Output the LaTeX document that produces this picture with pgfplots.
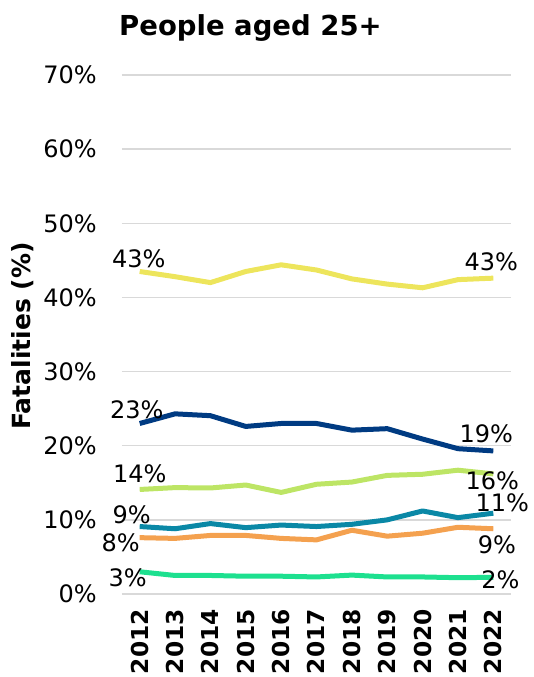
\documentclass[border=0pt]{standalone}
\usepackage{fontspec}
\setmainfont{DejaVu Sans}
\usepackage{pgfplots}
\pgfplotsset{compat=1.18}
\definecolor{cYellow}{HTML}{EDE55C}
\definecolor{cNavy}{HTML}{003B82}
\definecolor{cLime}{HTML}{BDE565}
\definecolor{cTeal}{HTML}{0A88A6}
\definecolor{cOrange}{HTML}{F4A14F}
\definecolor{cMint}{HTML}{1DE08F}
\definecolor{cGrid}{HTML}{D9D9D9}
\newcommand{\lbl}{\fontsize{24}{28}\selectfont}
\begin{document}
\begin{tikzpicture}
\useasboundingbox (0,0) rectangle (533pt,-677pt);
\node[anchor=base west, inner sep=0pt, font=\fontsize{27.5}{32}\selectfont\bfseries] at (119pt,-36pt) {People aged 25+};
\node[rotate=90, inner sep=0pt, font=\fontsize{25}{30}\selectfont\bfseries] at (22.5pt,-336pt) {Fatalities (\%)};
\begin{axis}[
    at={(122pt,-594pt)}, anchor=south west,
    scale only axis, width=389pt, height=519pt,
    xmin=2011.5, xmax=2022.5,
    ymin=0, ymax=70,
    xtick={2012,...,2022},
    ytick={0,10,...,70},
    yticklabel={\pgfmathprintnumber{\tick}\%},
    /pgf/number format/assume math mode=true,
    /pgf/number format/1000 sep={},
    axis line style={draw=none},
    major tick length=0pt,
    ymajorgrids, grid style={cGrid, line width=1.5pt},
    yticklabel style={font=\lbl, inner sep=0pt, anchor=east, xshift=-25pt},
    xticklabel style={font=\fontsize{23.3}{28}\selectfont\bfseries, rotate=90, anchor=east, inner sep=0pt},
    xticklabel shift=15pt,
    clip=false,
    every axis plot/.append style={line width=5pt, line join=round, no markers},
]
\addplot[cYellow] coordinates {(2012,43.5)(2013,42.8)(2014,42.0)(2015,43.5)(2016,44.4)(2017,43.7)(2018,42.5)(2019,41.8)(2020,41.3)(2021,42.4)(2022,42.6)};
\addplot[cNavy] coordinates {(2012,23.0)(2013,24.3)(2014,24.05)(2015,22.6)(2016,23.0)(2017,23.0)(2018,22.1)(2019,22.3)(2020,20.9)(2021,19.6)(2022,19.3)};
\addplot[cLime] coordinates {(2012,14.1)(2013,14.35)(2014,14.3)(2015,14.7)(2016,13.7)(2017,14.8)(2018,15.1)(2019,16.0)(2020,16.15)(2021,16.7)(2022,16.2)};
\addplot[cTeal] coordinates {(2012,9.1)(2013,8.8)(2014,9.5)(2015,8.95)(2016,9.3)(2017,9.1)(2018,9.4)(2019,10.0)(2020,11.2)(2021,10.3)(2022,10.9)};
\addplot[cOrange] coordinates {(2012,7.6)(2013,7.5)(2014,7.9)(2015,7.9)(2016,7.5)(2017,7.3)(2018,8.6)(2019,7.8)(2020,8.2)(2021,9.0)(2022,8.8)};
\addplot[cMint] coordinates {(2012,3.0)(2013,2.5)(2014,2.5)(2015,2.4)(2016,2.4)(2017,2.3)(2018,2.55)(2019,2.3)(2020,2.3)(2021,2.2)(2022,2.25)};
\begin{scope}[every node/.style={font=\lbl, inner sep=0pt}]
\node[xshift=-1pt, yshift=13pt] at (axis cs:2012,43.5) {43\%};
\node[xshift=-2pt, yshift=16.7pt] at (axis cs:2022,42.6) {43\%};
\node[xshift=-3pt, yshift=14pt] at (axis cs:2012,23.0) {23\%};
\node[xshift=-7pt, yshift=17pt] at (axis cs:2022,19.3) {19\%};
\node[xshift=0pt, yshift=16pt] at (axis cs:2012,14.1) {14\%};
\node[xshift=-1pt, yshift=-7pt] at (axis cs:2022,16.2) {16\%};
\node[xshift=9pt, yshift=10pt] at (axis cs:2022,10.9) {11\%};
\node[xshift=-8pt, yshift=12pt] at (axis cs:2012,9.1) {9\%};
\node[xshift=-19pt, yshift=-5pt] at (axis cs:2012,7.6) {8\%};
\node[xshift=3.5pt, yshift=-16pt] at (axis cs:2022,8.8) {9\%};
\node[xshift=-12pt, yshift=-6pt] at (axis cs:2012,3.0) {3\%};
\node[xshift=7pt, yshift=-2pt] at (axis cs:2022,2.25) {2\%};
\end{scope}
\end{axis}
\end{tikzpicture}
\end{document}
